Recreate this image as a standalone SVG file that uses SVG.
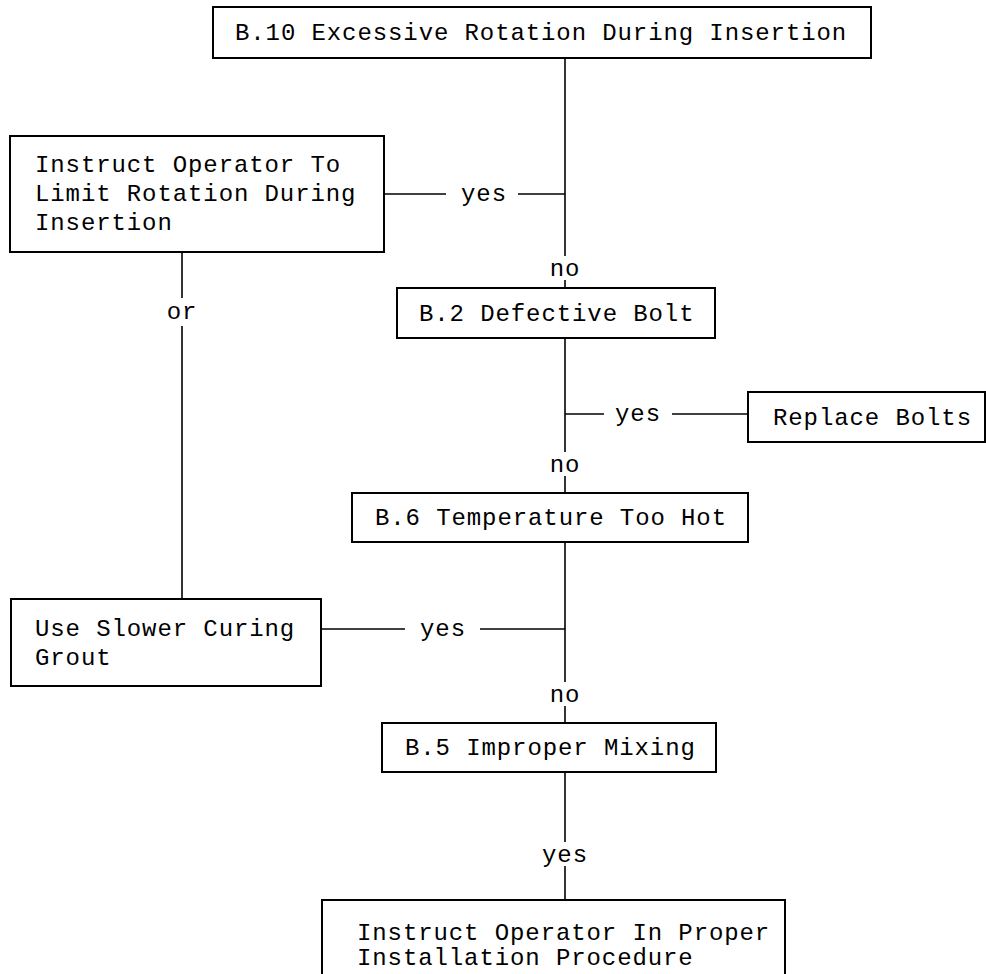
<svg xmlns="http://www.w3.org/2000/svg" width="986" height="974" viewBox="0 0 986 974">
<style>
rect{fill:#fff;stroke:#000;stroke-width:2}
text{font-family:"Liberation Mono","DejaVu Sans Mono",monospace;font-size:24px;letter-spacing:0.9px;fill:#000}
.c line{stroke:#000;stroke-width:1.6}
.m{text-anchor:middle}
</style>
<rect x="0" y="0" width="986" height="974" style="fill:#fff;stroke:none"/>
<g class="c" id="connectors">
<line x1="565" y1="58" x2="565" y2="256"/>
<line x1="565" y1="280" x2="565" y2="288"/>
<line x1="384" y1="194" x2="446" y2="194"/>
<line x1="518" y1="194" x2="565" y2="194"/>
<line x1="182" y1="252" x2="182" y2="298"/>
<line x1="182" y1="326" x2="182" y2="599"/>
<line x1="565" y1="338" x2="565" y2="452"/>
<line x1="565" y1="476" x2="565" y2="493"/>
<line x1="565" y1="414" x2="604" y2="414"/>
<line x1="672" y1="414" x2="748" y2="414"/>
<line x1="565" y1="542" x2="565" y2="682"/>
<line x1="565" y1="706" x2="565" y2="723"/>
<line x1="321" y1="629" x2="405" y2="629"/>
<line x1="480" y1="629" x2="565" y2="629"/>
<line x1="565" y1="772" x2="565" y2="842"/>
<line x1="565" y1="866" x2="565" y2="900"/>
<text class="m" x="565" y="276">no</text>
<text class="m" x="484" y="201">yes</text>
<text class="m" x="182" y="319">or</text>
<text class="m" x="638" y="421">yes</text>
<text class="m" x="565" y="472">no</text>
<text class="m" x="443" y="636">yes</text>
<text class="m" x="565" y="702">no</text>
<text class="m" x="565" y="862">yes</text>
</g>
<g id="n_b10">
<rect x="213" y="7" width="658" height="51"/>
<text x="235" y="40">B.10 Excessive Rotation During Insertion</text>
</g>
<g id="n_limit">
<rect x="10" y="136" width="374" height="116"/>
<text x="35" y="172">Instruct Operator To</text>
<text x="35" y="201">Limit Rotation During</text>
<text x="35" y="230">Insertion</text>
</g>
<g id="n_b2">
<rect x="397" y="288" width="318" height="50"/>
<text x="419" y="321">B.2 Defective Bolt</text>
</g>
<g id="n_replace">
<rect x="748" y="392" width="237" height="50"/>
<text x="773" y="425">Replace Bolts</text>
</g>
<g id="n_b6">
<rect x="352" y="493" width="396" height="49"/>
<text x="375" y="525">B.6 Temperature Too Hot</text>
</g>
<g id="n_slower">
<rect x="11" y="599" width="310" height="87"/>
<text x="35" y="636">Use Slower Curing</text>
<text x="35" y="665">Grout</text>
</g>
<g id="n_b5">
<rect x="382" y="723" width="334" height="49"/>
<text x="405" y="755">B.5 Improper Mixing</text>
</g>
<g id="n_proc">
<rect x="322" y="900" width="463" height="90"/>
<text x="357" y="940">Instruct Operator In Proper</text>
<text x="357" y="965">Installation Procedure</text>
</g>
</svg>
